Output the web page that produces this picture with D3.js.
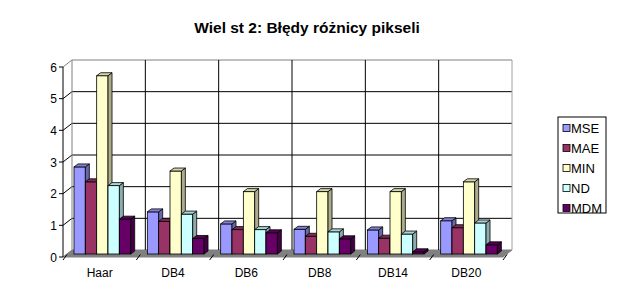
<!DOCTYPE html>
<html>
<head>
<meta charset="utf-8">
<script src="https://cdn.jsdelivr.net/npm/d3@7"></script>
<style>
  body { margin: 0; background: #fff; }
  text { font-family: "Liberation Sans", Arial, sans-serif; }
</style>
</head>
<body>
<div id="canvas"></div>
<script>
"use strict"

// chart data
let categories = ["Haar", "DB4", "DB6", "DB8", "DB14", "DB20"];
let seriesNames = ["MSE", "MAE", "MIN", "ND", "MDM"];
let mse = [2.75, 1.33, 0.95, 0.78, 0.76, 1.05];
let mae = [2.28, 1.03, 0.77, 0.56, 0.50, 0.83];
let minv = [5.63, 2.62, 1.97, 1.97, 1.97, 2.28];
let nd = [2.16, 1.26, 0.77, 0.70, 0.63, 0.98];
let mdm = [1.10, 0.49, 0.67, 0.48, 0.07, 0.29];
let yTicks = [0, 1, 2, 3, 4, 5, 6];
let colors = ["#9999ff", "#993366", "#ffffcc", "#ccffff", "#660066"];

let values = [mse, mae, minv, nd, mdm];

let width = 617;
let height = 298;

// front plane of the plot
let x0 = 63;
let plotW = 440;
let floorY = 257;
// depth of the box
let depthX = 9;
let depthY = -7;
// where the bars sit inside the box
let barShiftX = 4;
let barShiftY = -3;
let barDepthX = 4;
let barDepthY = -3;

let svg = d3.select("#canvas")
    .append("svg")
    .attr("width", width)
    .attr("height", height);

svg.append("rect")
    .attr("width", width)
    .attr("height", height)
    .attr("fill", "white");

let y = d3.scaleLinear()
    .domain([0, 6])
    .range([floorY, floorY - 190]);

let xCat = d3.scaleBand()
    .domain(categories)
    .range([x0, x0 + plotW]);

let xSer = d3.scaleBand()
    .domain(seriesNames)
    .range([7, 7 + 56.7]);

function poly(pts) {
    return pts.map(p => p.join(",")).join(" ");
}

// title
svg.append("text")
    .attr("x", 307)
    .attr("y", 33)
    .attr("text-anchor", "middle")
    .attr("font-size", 15.5)
    .attr("font-weight", "bold")
    .text("Wiel st 2: Błędy różnicy pikseli");

// floor
svg.append("polygon")
    .attr("points", poly([[x0, floorY], [x0 + plotW, floorY],
                          [x0 + plotW + depthX, floorY + depthY], [x0 + depthX, floorY + depthY]]))
    .attr("fill", "#808080")
    .attr("stroke", "#808080")
    .attr("stroke-width", 1);

// back wall grid lines (horizontal + side wall diagonals)
yTicks.forEach(t => {
    if (t === 0) return;
    let yy = y(t);
    svg.append("polyline")
        .attr("points", poly([[x0, yy], [x0 + depthX, yy + depthY], [x0 + plotW + depthX, yy + depthY]]))
        .attr("fill", "none")
        .attr("stroke", t === 6 ? "#808080" : "black")
        .attr("stroke-width", 1);
});

// vertical lines on back wall between categories
categories.forEach((c, i) => {
    let bx = xCat(c) + depthX;
    svg.append("line")
        .attr("x1", bx).attr("x2", bx)
        .attr("y1", y(0) + depthY).attr("y2", y(6) + depthY)
        .attr("stroke", i === 0 ? "#808080" : "black")
        .attr("stroke-width", 1);
});
// right edge of back wall
svg.append("line")
    .attr("x1", x0 + plotW + depthX).attr("x2", x0 + plotW + depthX)
    .attr("y1", y(0) + depthY).attr("y2", y(6) + depthY)
    .attr("stroke", "#a0a0a0")
    .attr("stroke-width", 1);

// y axis (front left edge of side wall)
svg.append("line")
    .attr("x1", x0).attr("x2", x0)
    .attr("y1", y(0)).attr("y2", y(6))
    .attr("stroke", "black")
    .attr("stroke-width", 1);

yTicks.forEach(t => {
    svg.append("line")
        .attr("x1", x0 - 4).attr("x2", x0)
        .attr("y1", y(t)).attr("y2", y(t))
        .attr("stroke", "black");
    svg.append("text")
        .attr("x", 57)
        .attr("y", y(t) + 4.5)
        .attr("text-anchor", "end")
        .attr("font-size", 12)
        .text(t);
});

// category axis ticks
categories.concat(["end"]).forEach((c, i) => {
    let bx = c === "end" ? x0 + plotW : xCat(c);
    svg.append("line")
        .attr("x1", bx + 4).attr("x2", bx)
        .attr("y1", floorY - 2.5).attr("y2", floorY + 3)
        .attr("stroke", "black");
});

// category labels
categories.forEach(c => {
    svg.append("text")
        .attr("x", xCat(c) + xCat.bandwidth() / 2)
        .attr("y", 277)
        .attr("text-anchor", "middle")
        .attr("font-size", 12)
        .text(c);
});

// bars
categories.forEach((c, i) => {
    seriesNames.forEach((s, j) => {
        let v = values[j][i];
        let left = xCat(c) + xSer(s) + barShiftX;
        let right = left + xSer.bandwidth();
        let top = y(v) + barShiftY;
        let bottom = y(0) + barShiftY;
        let col = d3.color(colors[j]);
        let g = svg.append("g");
        // front
        g.append("rect")
            .attr("x", left)
            .attr("y", top)
            .attr("width", right - left)
            .attr("height", bottom - top)
            .attr("fill", colors[j])
            .attr("stroke", "black")
            .attr("stroke-width", 0.8);
        // side
        g.append("polygon")
            .attr("points", poly([[right, top], [right + barDepthX, top + barDepthY],
                                  [right + barDepthX, bottom + barDepthY], [right, bottom]]))
            .attr("fill", col.darker(1.1))
            .attr("stroke", "black")
            .attr("stroke-width", 0.8);
        // top
        g.append("polygon")
            .attr("points", poly([[left, top], [left + barDepthX, top + barDepthY],
                                  [right + barDepthX, top + barDepthY], [right, top]]))
            .attr("fill", col.darker(0.5))
            .attr("stroke", "black")
            .attr("stroke-width", 0.8);
    });
});

// legend
let legend = svg.append("g");
legend.append("rect")
    .attr("x", 558)
    .attr("y", 117)
    .attr("width", 48)
    .attr("height", 96)
    .attr("fill", "white")
    .attr("stroke", "black")
    .attr("stroke-width", 1);

let legendY = d3.scalePoint()
    .domain(seriesNames)
    .range([128, 208]);

seriesNames.forEach((s, j) => {
    legend.append("rect")
        .attr("x", 563)
        .attr("y", legendY(s) - 3.5)
        .attr("width", 7)
        .attr("height", 7)
        .attr("fill", colors[j])
        .attr("stroke", "black")
        .attr("stroke-width", 0.8);
    legend.append("text")
        .attr("x", 571)
        .attr("y", legendY(s) + 4.5)
        .attr("font-size", 13)
        .text(s);
});
</script>
</body>
</html>
